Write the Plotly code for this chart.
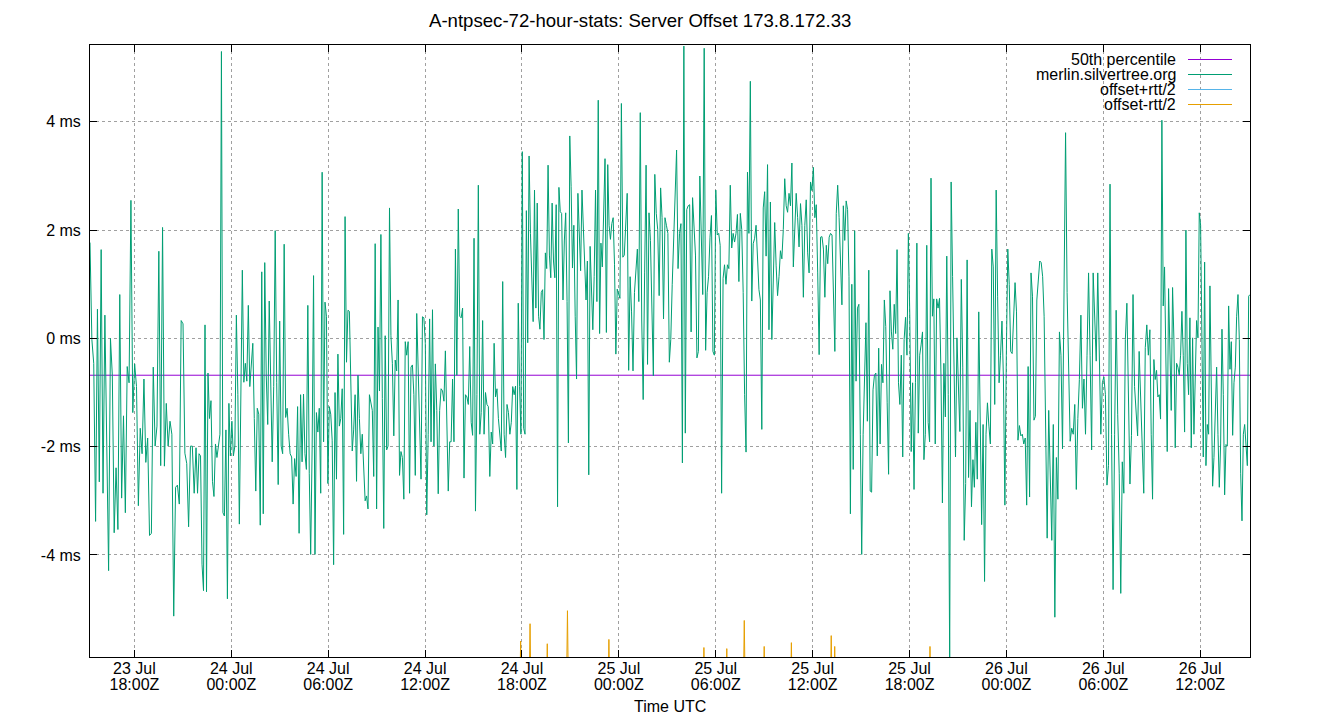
import numpy as np
import pandas as pd
import plotly.graph_objects as go

TITLE = "A-ntpsec-72-hour-stats: Server Offset 173.8.172.33"
SERVER = "merlin.silvertree.org"

# time windows covered by each block of offset samples
SEGMENT_BOUNDS = ["2025-07-23 15:15", "2025-07-23 21:49", "2025-07-24 04:23",
                  "2025-07-24 10:57", "2025-07-24 17:31", "2025-07-25 00:04",
                  "2025-07-25 06:38", "2025-07-25 13:12", "2025-07-25 19:46",
                  "2025-07-26 02:20", "2025-07-26 08:53", "2025-07-26 15:05"]

# server offset in ms
OFFSET_1 = [1.77, -0.02, -0.46, -3.38, 0.54, -2.65, 1.64, -2.86, 0.43, -1.77, -4.29, 0.0, -0.68,
            -3.59, -2.39, -3.53, 0.81, -2.95, -1.43, -3.22, -0.52, -0.82, 2.55, -1.37, -0.47, -0.89,
            -3.09, -1.66, -2.13, -0.75, -2.29, -1.84, -3.64, -3.6, -0.53, -1.99, -1.62, 1.61, -2.35,
            2.05, -2.36, -1.2, -1.99, -1.53, -1.77, -5.13, -2.75, -2.71, -3.06, 0.33, 0.27, -2.12,
            -2.31, -3.48, -1.99, -1.99, -2.86]
OFFSET_2 = [-2.02, -2.86, -2.13, -2.17, -4.17, -4.66, 0.25, -4.68, -0.64, -1.48, -1.15, -2.64, -2.92,
            -1.95, -2.2, -1.95, -1.77, 5.3, -3.22, -3.28, -1.69, -4.81, -1.2, -2.17, -1.53, -2.17,
            -1.99, 0.43, -1.04, -3.43, -1.29, 1.26, -0.81, -0.46, -0.79, 0.61, -0.89, -0.39, -0.09,
            -1.48, -2.82, -1.29, -1.4, -3.45, 1.23, -3.24, 1.4, -0.68, -1.59, 0.69, -1.04, -2.28,
            -0.89, 1.99, -0.82, -2.7, 0.32, -1.99, -2.13, 1.74, -1.46, -1.29, -1.77, -2.13, -2.19,
            -3.06, -2.22, -2.55, -1.26, -3.6, -1.04]
OFFSET_3 = [-2.28, -1.03, -2.13, -2.42, 0.61, -2.49, -3.99, -2.06, 1.16, -3.99, -1.37, -1.73, -1.29,
            -2.86, 3.07, -1.91, 0.67, 0.41, -2.68, -1.26, -1.4, -1.88, -4.18, -1.0, -2.6, -0.29,
            -1.62, -1.48, -0.93, -3.62, 2.25, -0.44, 0.52, 0.5, -0.82, -2.08, -1.69, -1.04, -2.64,
            -0.68, -1.48, -2.13, -1.77, -2.49, -3.0, -2.91, -3.15, -1.04, -1.22, -1.33, -2.55, 1.75,
            -3.15, 0.21, -0.97, 1.92, -1.11, -3.51, 0.05, -2.06, -1.99, 2.41, 0.05, -0.46, -1.8,
            -0.4, -0.6, 0.71, -2.53, -2.09, -2.2, -2.97, -0.06, -0.31]
OFFSET_4 = [-0.06, -2.86, -0.53, -0.49, -1.04, -2.53, 0.46, -0.68, -1.62, -2.6, 0.4, 0.38, -0.09,
            -3.26, -1.77, 0.36, -1.91, 0.53, -1.99, -0.47, -1.33, -2.87, -1.33, -0.93, -0.97, -1.16,
            -0.23, -1.4, -2.82, -1.91, -1.91, -0.75, -1.91, 1.65, -0.68, 2.39, 0.41, 0.38, 0.56,
            -2.58, -1.04, -1.08, -1.22, -0.15, -1.55, -1.79, 1.85, -3.19, -1.04, 2.83, -1.77, -1.37,
            0.33, -1.77, -1.0, -1.22, -1.26, -2.55, -1.73, -1.95, -0.09, -1.08, -0.93, -1.48, -1.77,
            -2.08, 1.05, -1.77, -2.2, -1.22, -1.37, -1.77, -1.55, -0.89]
OFFSET_5 = [-1.04, -0.88, -2.79, 0.65, -0.89, -1.77, 3.45, -1.66, -1.77, 2.36, -0.08, 3.37, 1.94,
            1.21, 0.31, 2.74, 0.56, 2.5, 0.41, 0.17, 0.85, 0.9, -0.02, 1.58, 1.29, 3.2, 1.54, 1.12,
            2.5, 1.43, 1.12, 2.47, -3.11, 2.79, 2.34, 2.31, 0.71, 1.8, 2.32, 0.68, -1.93, 3.74, 2.81,
            1.3, 2.09, 0.41, -0.75, 2.68, 1.8, 1.25, 2.74, 2.16, 1.58, 0.71, 1.43, -2.52, 1.7, 1.0,
            0.16, 1.14, 2.74, 0.68, 4.4, 0.09, 1.76, 1.32, 2.67, 3.32, 0.11, 3.21, 2.09, 1.83, 2.12,
            2.23, 1.36, -0.29, 0.91, 0.81]
OFFSET_6 = [0.74, 4.34, 1.5, 1.54, 2.01, 2.68, -0.59, 1.14, 0.49, -0.6, 0.85, 1.25, 1.65, 0.68, 4.17,
            0.34, -1.13, 1.21, 3.2, -0.48, 2.32, 1.81, 0.41, -0.69, 3.03, 2.31, 2.01, 0.79, 2.78,
            2.23, 0.36, 2.23, 2.09, 1.94, -0.44, -0.02, 1.0, 1.87, 3.03, 3.48, 1.29, 1.94, 2.12,
            -2.3, 5.4, -1.75, 2.38, 2.45, 2.47, 0.12, 2.6, 2.01, 1.54, -0.36, -0.24, 3.0, 1.65, 0.81,
            5.36, -0.22, 0.85, 1.14, 1.87, 2.27, -0.24, -0.31, 2.74, 1.91, 1.94, 1.72, -2.86, 1.11,
            1.36]
OFFSET_7 = [1.0, 1.36, 1.29, 2.83, 1.67, 1.94, 1.78, 1.94, 2.29, 1.05, 2.31, 2.01, 0.85, -1.04, -2.1,
            3.07, 1.94, 4.75, 0.69, 1.75, 1.85, 2.09, 1.51, 0.9, 0.71, -1.68, 2.41, 2.71, 1.52, 3.21,
            0.16, 2.52, -0.02, 1.14, 2.14, 1.34, 0.79, 1.14, 1.62, 1.47, 2.01, 2.95, 2.45, 2.33,
            2.68, 2.45, 3.24, 1.32, 2.09, 2.68, 2.23, 1.69, 2.49, 2.09, 0.76, 2.09, 2.56, 1.58, 1.21,
            2.89, 2.73, 3.16, 2.23, 2.47, 1.21, -0.3, 1.87, 1.88, 1.65, 0.76, 1.72, 1.38, 1.87, 1.94]
OFFSET_8 = [1.91, 0.85, -0.24, 2.31, 2.83, 2.23, 1.43, 0.62, 2.45, 1.81, 2.54, 2.38, 1.14, -3.24, 1.0,
            -2.42, 1.99, -0.79, 0.56, 0.63, -1.77, -3.99, -1.77, -0.82, 0.29, -1.53, 1.26, -2.82,
            -2.84, -0.95, -0.68, -0.64, -2.17, -0.18, -1.95, -0.48, -0.82, 0.71, 0.22, -1.19, -2.51,
            0.88, 0.12, -0.2, 0.63, 0.09, 1.64, -0.82, -1.22, -0.31, -2.19, -0.02, 0.39, -0.31, 1.94,
            0.41, -2.09, -0.82, -2.79, -0.82, 1.76, -1.75, -0.31, -0.12, 0.12, -2.24, -1.77, 1.72,
            -1.55, -1.91, 2.96, 0.41, 0.73, -1.95, 0.73]
OFFSET_9 = [0.56, 0.74, -0.68, -3.04, -0.46, -1.45, 1.52, -1.04, -6.0, 2.89, 1.14, -0.75, -2.19, 0.01,
            -1.04, -1.72, 1.09, -0.53, -3.73, -2.68, 1.45, -2.57, -1.33, -3.11, -2.24, -2.75, -1.55,
            -2.6, 0.49, -1.4, -3.44, -1.59, -4.49, -1.77, -1.19, -1.62, -1.95, 1.65, 1.32, -1.22,
            2.74, 0.78, -0.82, -0.31, 0.32, -0.75, -3.08, -0.31, 1.65, 1.0, -0.24, -0.28, 0.56, 1.03,
            0.49, -1.88, -1.61, -1.8, -1.77, -1.95, -1.84, -3.08, -0.52, -2.93, 1.21, 0.78, -1.51,
            -1.44, 0.71, 1.18, 1.43, 1.4, 1.14]
OFFSET_10 = [0.41, -1.33, -3.69, -1.33, -2.49, -3.73, -1.59, -5.15, -2.2, -2.97, 0.12, -0.31, -2.04,
             0.85, 3.8, 0.85, -0.75, -1.9, -1.66, -1.77, -1.22, -2.79, -1.48, -0.76, 0.43, -1.29,
             -0.75, -1.77, -0.31, 1.21, -0.31, -2.06, 1.21, 0.34, -0.42, 1.21, -0.46, -1.77, -0.82,
             -0.71, -1.04, -2.71, -2.35, 2.85, -1.77, -4.64, -1.77, 0.52, -1.4, -2.49, -4.71, -2.28,
             -2.86, -0.02, 0.65, -1.04, -2.69, -1.79, 0.81, -0.89, -1.29, -1.8, -0.24, -1.0, -1.78,
             -2.86, -0.17, 0.25, -0.31]
OFFSET_11 = [0.16, -1.77, -2.97, -0.39, -0.76, -0.59, -1.08, -1.04, -1.49, 4.03, 0.6, 1.32, -0.53,
             -2.09, 0.92, -0.04, -1.33, 0.94, -0.02, -2.02, -0.46, -0.53, -0.68, -0.31, 0.5, -0.31,
             -1.73, 2.0, -0.46, -1.04, 0.38, -2.02, 0.01, -1.77, -0.6, 0.33, 0.01, 2.32, 2.09, 0.41,
             -2.19, 1.41, -2.35, -1.59, -1.77, 0.97, -0.75, -2.73, -2.2, -1.08, -0.53, -1.77, -2.75,
             -1.95, 0.17, -1.04, -2.89, -1.96, -1.99, 0.6, -0.57, -0.06, -1.79, -0.82, -0.53, 0.41,
             0.81, -0.02, -2.49, -3.37, -1.77, -1.59, -1.91, -2.35, 0.78, 0.81]

OFFSET_SEGMENTS = [OFFSET_1, OFFSET_2, OFFSET_3, OFFSET_4, OFFSET_5, OFFSET_6,
                   OFFSET_7, OFFSET_8, OFFSET_9, OFFSET_10, OFFSET_11]

MEDIAN_OFFSET = -0.68  # 50th percentile, ms

# offset - rtt/2 only shows where it rises above the bottom of the chart
LOW_SPIKE_TIMES = ["2025-07-24 17:55", "2025-07-24 18:30", "2025-07-24 19:34", "2025-07-24 20:49",
                   "2025-07-24 23:23", "2025-07-25 05:16", "2025-07-25 06:41", "2025-07-25 07:46",
                   "2025-07-25 09:00", "2025-07-25 10:41", "2025-07-25 13:09", "2025-07-25 13:22",
                   "2025-07-25 19:16"]
LOW_SPIKE_VALUES = [-5.59, -5.27, -5.64, -5.03, -5.56, -5.71, -5.73, -5.21, -5.69, -5.62, -5.49,
                    -5.69, -5.69]
LOW_TYPICAL = -7.5      # typical offset-rtt/2 level, off the chart
HIGH_TYPICAL = 7.5      # typical offset+rtt/2 level, off the chart

TICK_TIMES = pd.date_range("2025-07-23 18:00", "2025-07-26 12:00", freq="6h")
Y_TICKS = [-4, -2, 0, 2, 4]
Y_RANGE = [-5.885, 5.42]

# ---------------------------------------------------------------------------
times = []
values = []
n_seg = len(OFFSET_SEGMENTS)
for i, seg in enumerate(OFFSET_SEGMENTS):
    t0 = pd.Timestamp(SEGMENT_BOUNDS[i])
    t1 = pd.Timestamp(SEGMENT_BOUNDS[i + 1])
    if i < n_seg - 1:
        ts = pd.date_range(t0, t1, periods=len(seg) + 1)[:-1]
    else:
        ts = pd.date_range(t0, t1, periods=len(seg))
    times.extend(ts)
    values.extend(seg)

step = pd.Timedelta(minutes=6)
low_t, low_v = [pd.Timestamp(SEGMENT_BOUNDS[0])], [LOW_TYPICAL]
for t, v in zip(LOW_SPIKE_TIMES, LOW_SPIKE_VALUES):
    t = pd.Timestamp(t)
    low_t += [t - step, t, t + step]
    low_v += [LOW_TYPICAL, v, LOW_TYPICAL]
low_t.append(pd.Timestamp(SEGMENT_BOUNDS[-1]))
low_v.append(LOW_TYPICAL)

t_start = pd.Timestamp(SEGMENT_BOUNDS[0])
t_end = pd.Timestamp(SEGMENT_BOUNDS[-1])

FONT = "Liberation Sans, Arial, sans-serif"
PURPLE, GREEN, BLUE, ORANGE = "#9400d3", "#009e73", "#56b4e9", "#e69f00"

# plot area in pixels
L, R, T, B = 90, 1250, 45, 657
W, H = 1340, 720
PW, PH = R - L, B - T

fig = go.Figure()
fig.add_trace(go.Scatter(x=[t_start, t_end], y=[MEDIAN_OFFSET, MEDIAN_OFFSET], mode="lines",
                         line=dict(color=PURPLE, width=1), showlegend=False, hoverinfo="skip"))
fig.add_trace(go.Scatter(x=times, y=values, mode="lines", line=dict(color=GREEN, width=1),
                         showlegend=False))
fig.add_trace(go.Scatter(x=[t_start, t_end], y=[HIGH_TYPICAL, HIGH_TYPICAL], mode="lines",
                         line=dict(color=BLUE, width=1), showlegend=False, hoverinfo="skip"))
fig.add_trace(go.Scatter(x=low_t, y=low_v, mode="lines", line=dict(color=ORANGE, width=1),
                         showlegend=False))

day_text = [t.strftime("%d %b") for t in TICK_TIMES]
hour_text = [t.strftime("%H:%MZ") for t in TICK_TIMES]

tickfont = dict(family=FONT, size=16, color="black")
axis_common = dict(showline=True, linecolor="black", linewidth=1, mirror="ticks",
                   ticks="inside", ticklen=7, tickcolor="black", showgrid=True,
                   gridcolor="#a0a0a0", griddash="dot", gridwidth=1, zeroline=False,
                   tickfont=tickfont, automargin=False)

fig.update_layout(
    width=W, height=H,
    margin=dict(l=L, r=W - R, t=T, b=H - B, pad=0),
    paper_bgcolor="white", plot_bgcolor="white",
    font=dict(family=FONT, size=16, color="black"),
    xaxis=dict(type="date", range=[t_start, t_end], tickvals=list(TICK_TIMES),
               ticktext=day_text, ticklabelstandoff=-3, **axis_common),
    xaxis2=dict(type="date", range=[t_start, t_end], overlaying="x", matches="x", anchor="y",
                side="bottom", tickvals=list(TICK_TIMES), ticktext=hour_text,
                ticklabelstandoff=16, showgrid=False, showline=False, ticks="",
                zeroline=False, tickfont=tickfont, automargin=False),
    yaxis=dict(range=Y_RANGE, tickvals=Y_TICKS,
               ticktext=[f"{v} ms" for v in Y_TICKS], ticklabelstandoff=5,
               **axis_common),
    showlegend=False,
)
# invisible trace so the second (hour) tick-label axis is drawn
fig.add_trace(go.Scatter(x=[t_start], y=[MEDIAN_OFFSET], xaxis="x2", mode="lines",
                         showlegend=False, hoverinfo="skip", line=dict(width=0)))

fig.add_annotation(text=TITLE, xref="paper", yref="paper", x=(640 - L) / PW, y=1,
                   yshift=25, xanchor="center", yanchor="middle", showarrow=False,
                   font=dict(family=FONT, size=18.6, color="black"))
fig.add_annotation(text="Time UTC", xref="paper", yref="paper", x=0.5, y=(B - 706) / PH,
                   xanchor="center", yanchor="middle", showarrow=False,
                   font=dict(family=FONT, size=16, color="black"))

legend_items = [("50th percentile", PURPLE), (SERVER, GREEN),
                ("offset+rtt/2", BLUE), ("offset-rtt/2", ORANGE)]
for k, (name, col) in enumerate(legend_items):
    ypx = 59.5 + 15 * k
    yp = (B - ypx) / PH
    fig.add_annotation(text=name, xref="paper", yref="paper", x=(1178 - L) / PW, y=yp,
                       xanchor="right", yanchor="middle", showarrow=False,
                       font=dict(family=FONT, size=16, color="black"))
    fig.add_shape(type="line", xref="paper", yref="paper", x0=(1188 - L) / PW,
                  x1=(1232 - L) / PW, y0=yp, y1=yp, line=dict(color=col, width=1))

fig.write_html("out.html")
